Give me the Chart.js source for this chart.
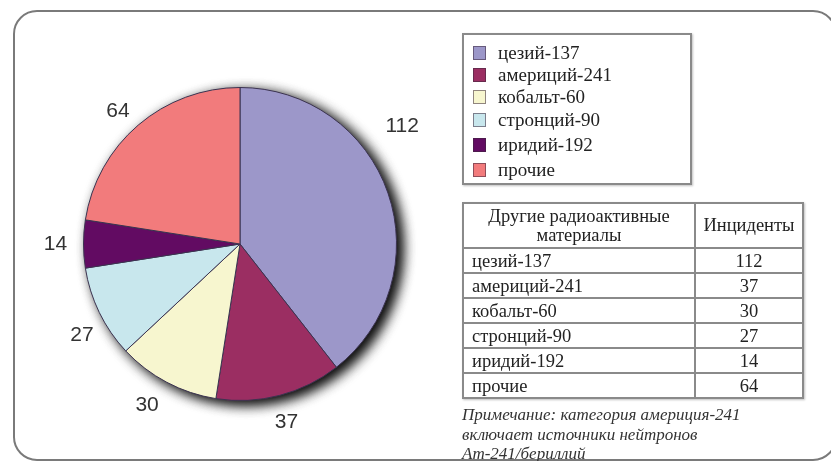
<!DOCTYPE html>
<html lang="ru">
<head>
<meta charset="utf-8">
<script src="https://cdn.jsdelivr.net/npm/chart.js@4"></script>
<style>
  html, body { margin: 0; padding: 0; background: #fff; }
  body { width: 831px; height: 461px; position: relative; overflow: hidden; font-family: "Liberation Serif", "Times New Roman", serif; color: #222; }
  #frame { position: absolute; left: 13px; top: 10px; width: 820px; height: 447px; border: 2px solid #7a7a7a; border-radius: 24px; }
  #wrap { position: absolute; left: 0; top: 0; width: 831px; height: 461px; }
  #legenda { position: absolute; left: 462px; top: 33px; width: 226px; height: 148px; border: 2px solid #8a8a8a; box-shadow: 1px 1px 2px rgba(0,0,0,0.25); background: #fff; }
  #legenda .item { position: absolute; left: 9px; height: 22px; font-size: 19px; line-height: 22px; white-space: nowrap; }
  #legenda .sq { position: absolute; left: 0; top: 4px; width: 13px; height: 14px; border: 1px solid rgba(60,40,60,0.55); box-sizing: border-box; }
  #legenda .txt { position: absolute; left: 25px; top: 0; }
  #tabla { position: absolute; left: 462px; top: 202px; border-collapse: collapse; font-size: 18.5px; background: #fff; box-shadow: 1px 1px 2px rgba(0,0,0,0.25); }
  #tabla td, #tabla th { border: 2px solid #8a8a8a; padding: 0; font-weight: normal; }
  #tabla th { height: 43px; line-height: 19px; text-align: center; }
  #tabla td { height: 23px; line-height: 22px; }
  #tabla td.nom { width: 222px; padding-left: 8px; text-align: left; }
  #tabla td.val { width: 106px; text-align: center; }
  #nota { position: absolute; left: 462px; top: 405px; font-size: 17px; font-style: italic; line-height: 19.5px; color: #333; white-space: nowrap; }
</style>
</head>
<body>
<div id="frame"></div>
<div id="wrap"><canvas id="grafico"></canvas></div>
<div id="legenda"></div>
<table id="tabla"></table>
<div id="nota"></div>
<script>
// Datos del gráfico
const materiales = ['цезий-137', 'америций-241', 'кобальт-60', 'стронций-90', 'иридий-192', 'прочие'];
const incidentes = [112, 37, 30, 27, 14, 64];
const colores = ['#9c97c9', '#9b2e62', '#f7f6cf', '#c8e7ed', '#620b62', '#f27b7c'];
const encabezados = ['Другие радиоактивные материалы', 'Инциденты'];
const notaLineas = ['Примечание: категория америция-241', 'включает источники нейтронов', 'Am-241/бериллий'];

document.addEventListener('DOMContentLoaded', function() {
    // Sombra bajo el círculo
    const sombraPlugin = {
        id: 'sombra',
        beforeDatasetsDraw(chart) {
            const arco = chart.getDatasetMeta(0).data[0];
            if (!arco) return;
            const ctx = chart.ctx;
            ctx.save();
            ctx.shadowColor = 'rgba(0,0,0,0.85)';
            ctx.shadowBlur = 14;
            ctx.shadowOffsetX = 6;
            ctx.shadowOffsetY = 4;
            ctx.fillStyle = '#fff';
            for (let k = 0; k < 2; k++) {
                ctx.beginPath();
                ctx.arc(arco.x, arco.y, arco.outerRadius - 1, 0, Math.PI * 2);
                ctx.fill();
            }
            ctx.restore();
        }
    };

    // Etiquetas con valores fuera de cada sector
    const etiquetasPlugin = {
        id: 'etiquetas',
        afterDatasetsDraw(chart, args, opts) {
            const ctx = chart.ctx;
            const datos = chart.data.datasets[0].data;
            ctx.save();
            ctx.font = '21px "Liberation Sans", Arial, sans-serif';
            ctx.fillStyle = '#333';
            ctx.textAlign = 'center';
            ctx.textBaseline = 'middle';
            chart.getDatasetMeta(0).data.forEach((arco, i) => {
                const ang = (arco.startAngle + arco.endAngle) / 2 + (opts.ajuste[i] || 0) * Math.PI / 180;
                const r = arco.outerRadius + opts.distancia + (opts.extra[i] || 0);
                ctx.fillText(datos[i], arco.x + Math.cos(ang) * r, arco.y + Math.sin(ang) * r);
            });
            ctx.restore();
        }
    };

    new Chart(document.getElementById('grafico'), {
        type: 'pie',
        data: {
            labels: materiales,
            datasets: [{
                data: incidentes,
                backgroundColor: colores,
                borderColor: '#3b3350',
                borderWidth: 1,
                hoverOffset: 0
            }]
        },
        options: {
            responsive: true,
            maintainAspectRatio: false,
            animation: false,
            events: [],
            layout: { padding: { left: 83, right: 434, top: 87, bottom: 60 } },
            plugins: {
                legend: { display: false },
                tooltip: { enabled: false },
                etiquetas: { distancia: 28, ajuste: [-17, 0, 2, -4, 0, -2], extra: [16, 0, 2, -2, 0, -4] }
            }
        },
        plugins: [sombraPlugin, etiquetasPlugin]
    });

    // Leyenda
    const legenda = document.getElementById('legenda');
    const filasY = [7, 29, 51, 74, 99, 124];
    materiales.forEach((m, i) => {
        const item = document.createElement('div');
        item.className = 'item';
        item.style.top = filasY[i] + 'px';
        item.innerHTML = '<span class="sq" style="background:' + colores[i] + '"></span><span class="txt">' + m + '</span>';
        legenda.appendChild(item);
    });

    // Tabla
    const tabla = document.getElementById('tabla');
    let html = '<tr><th>Другие радиоактивные<br>материалы</th><th>' + encabezados[1] + '</th></tr>';
    materiales.forEach((m, i) => {
        html += '<tr><td class="nom">' + m + '</td><td class="val">' + incidentes[i] + '</td></tr>';
    });
    tabla.innerHTML = html;

    document.getElementById('nota').innerHTML = notaLineas.join('<br>');
});
</script>
</body>
</html>
